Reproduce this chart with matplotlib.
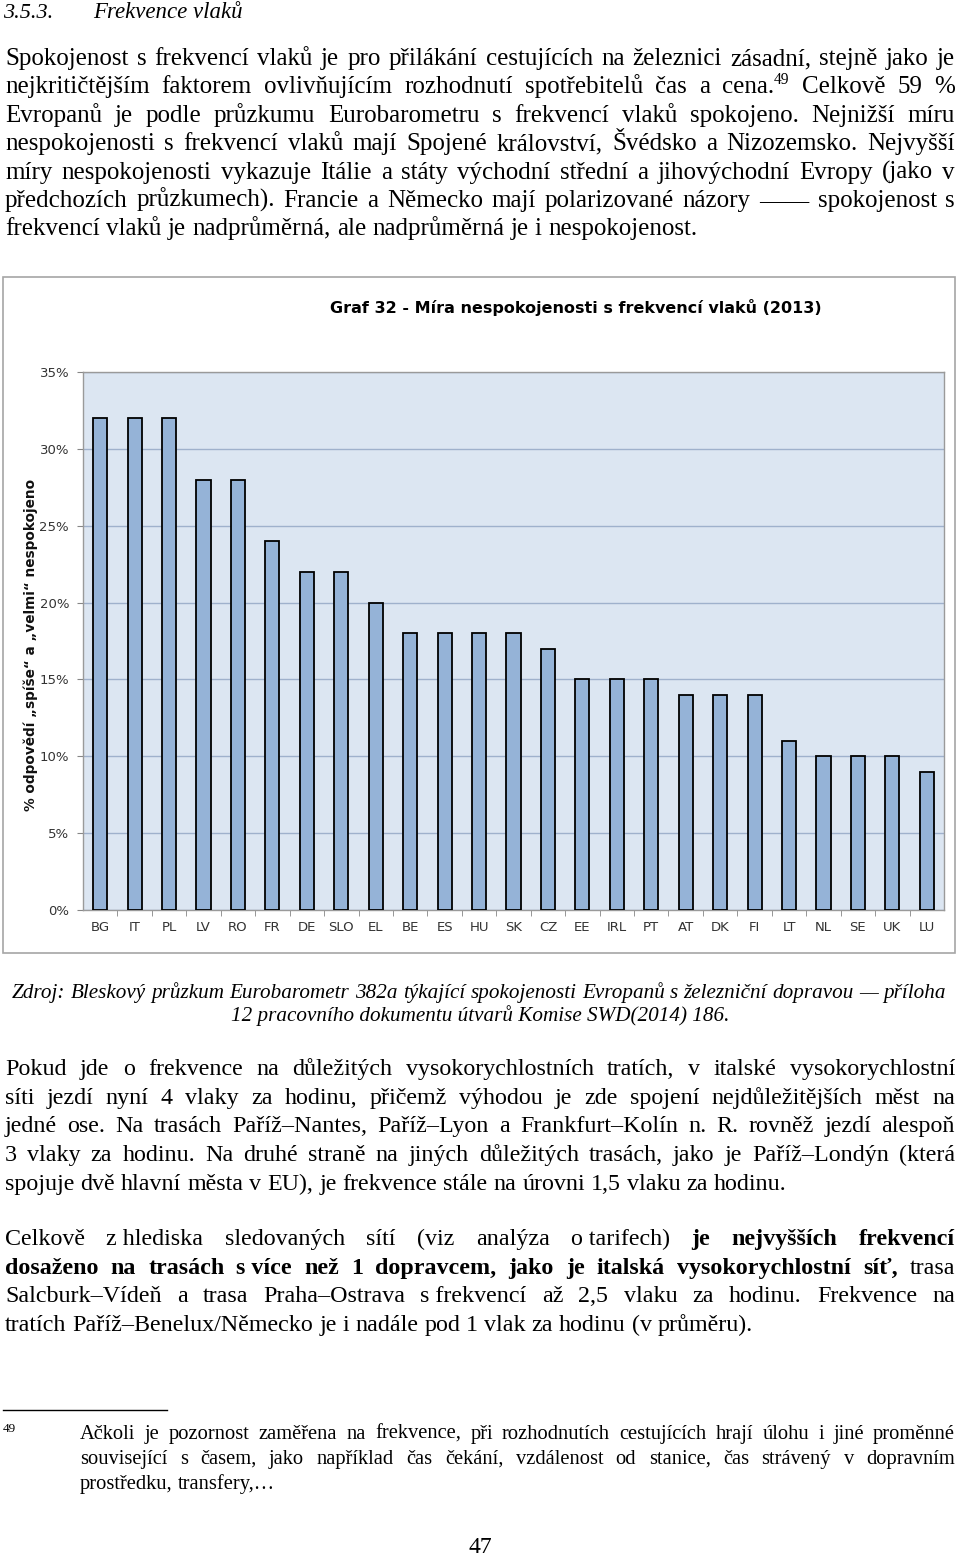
import matplotlib
matplotlib.use('Agg')
import matplotlib.pyplot as plt
from matplotlib.patches import Rectangle

# data
zeme = ['BG', 'IT', 'PL', 'LV', 'RO', 'FR', 'DE', 'SLO', 'EL', 'BE', 'ES', 'HU', 'SK',
        'CZ', 'EE', 'IRL', 'PT', 'AT', 'DK', 'FI', 'LT', 'NL', 'SE', 'UK', 'LU']
nespokojenost = [32, 32, 32, 28, 28, 24, 22, 22, 20, 18, 18, 18, 18,
                 17, 15, 15, 15, 14, 14, 14, 11, 10, 10, 10, 9]
y_ticky = [0, 5, 10, 15, 20, 25, 30, 35]
y_popisky = ['0%', '5%', '10%', '15%', '20%', '25%', '30%', '35%']

nadpis_grafu = 'Graf 32 - Míra nespokojenosti s frekvencí vlaků (2013)'
osa_y = '% odpovědí \u201espíše\u201c a \u201evelmi\u201c nespokojeno'

odstavec1 = [
    'Spokojenost s frekvencí vlaků je pro přilákání cestujících na železnici zásadní, stejně jako je',
    'nejkritičtějším faktorem ovlivňujícím rozhodnutí spotřebitelů čas a cena.^49 Celkově 59 %',
    'Evropanů je podle průzkumu Eurobarometru s frekvencí vlaků spokojeno. Nejnižší míru',
    'nespokojenosti s frekvencí vlaků mají Spojené království, Švédsko a Nizozemsko. Nejvyšší',
    'míry nespokojenosti vykazuje Itálie a státy východní střední a jihovýchodní Evropy (jako v',
    'předchozích průzkumech). Francie a Německo mají polarizované názory \u2014\u2014 spokojenost s',
    'frekvencí vlaků je nadprůměrná, ale nadprůměrná je i nespokojenost.',
]
zdroj = [
    'Zdroj: Bleskový průzkum Eurobarometr 382a týkající spokojenosti Evropanů s železniční dopravou \u2014 příloha',
    '12 pracovního dokumentu útvarů Komise SWD(2014) 186.',
]
odstavec2 = [
    'Pokud jde o frekvence na důležitých vysokorychlostních tratích, v italské vysokorychlostní',
    'síti jezdí nyní 4 vlaky za hodinu, přičemž výhodou je zde spojení nejdůležitějších měst na',
    'jedné ose. Na trasách Paříž\u2013Nantes, Paříž\u2013Lyon a Frankfurt\u2013Kolín n. R. rovněž jezdí alespoň',
    '3 vlaky za hodinu. Na druhé straně na jiných důležitých trasách, jako je Paříž\u2013Londýn (která',
    'spojuje dvě hlavní města v EU), je frekvence stále na úrovni 1,5 vlaku za hodinu.',
]
# slova s * jsou tučně
odstavec3 = [
    'Celkově z\u00a0hlediska sledovaných sítí (viz analýza o\u00a0tarifech) *je *nejvyšších *frekvencí',
    '*dosaženo *na *trasách *s\u00a0více *než *1 *dopravcem, *jako *je *italská *vysokorychlostní *síť, trasa',
    'Salcburk\u2013Vídeň a trasa Praha\u2013Ostrava s\u00a0frekvencí až 2,5 vlaku za hodinu. Frekvence na',
    'tratích Paříž\u2013Benelux/Německo je i nadále pod 1 vlak za hodinu (v průměru).',
]
poznamka = [
    'Ačkoli je pozornost zaměřena na frekvence, při rozhodnutích cestujících hrají úlohu i jiné proměnné',
    'související s časem, jako například čas čekání, vzdálenost od stanice, čas strávený v dopravním',
    'prostředku, transfery,\u2026',
]

W, H = 960, 1557
SERIF = 'Liberation Serif'
SANS = 'DejaVu Sans'

fig = plt.figure(figsize=(W / 100, H / 100), dpi=100)
r = fig.canvas.get_renderer()


def put(x, y, s, **kw):
    return fig.text(x / W, 1 - y / H, s, **kw)


def radek(text, y, x0, x1, size, justify=True, style='normal'):
    slova = []
    for tok in text.split(' '):
        bold = tok.startswith('*')
        tok = tok.lstrip('*').replace('\u00a0', ' ')
        base, _, sup = tok.partition('^')
        t = put(0, y, base, fontsize=size, family=SERIF, style=style,
                fontweight='bold' if bold else 'normal', va='baseline')
        wb = t.get_window_extent(r).width
        st = None
        w = wb
        if sup:
            st = put(0, y - size * 0.55, sup, fontsize=size * 0.62, family=SERIF, va='baseline')
            w += st.get_window_extent(r).width
        slova.append((t, st, wb, w))
    celkem = sum(s[3] for s in slova)
    em = size * 100 / 72
    mezera = em * 0.25
    if justify and len(slova) > 1:
        mezera = max((x1 - x0 - celkem) / (len(slova) - 1), em * 0.12)
    x = x0
    for t, st, wb, w in slova:
        t.set_x(x / W)
        if st is not None:
            st.set_x((x + wb) / W)
        x += w + mezera
    return x


# nadpis kapitoly
put(3, 18, '3.5.3.', fontsize=16, family=SERIF, style='italic', va='baseline')
put(93, 18, 'Frekvence vlaků', fontsize=16.5, family=SERIF, style='italic', va='baseline')

for i, t in enumerate(odstavec1):
    radek(t, 65 + i * 28.4, 5, 955, 18, justify=i < len(odstavec1) - 1)

# rámeček grafu
fig.patches.append(Rectangle((3 / W, 1 - 953 / H), 952 / W, 676 / H, transform=fig.transFigure,
                             fill=False, edgecolor='#a6a6a6', linewidth=1.2))
put(576, 308, nadpis_grafu, fontsize=11.5, family=SANS, fontweight='bold', ha='center', va='center')

ax = fig.add_axes([83 / W, 1 - 910 / H, (944 - 83) / W, (910 - 372) / H])
ax.set_facecolor('#dce6f2')
x = list(range(len(zeme)))
ax.bar(x, nespokojenost, width=0.41, color='#95b3d7', edgecolor='black', linewidth=1.3, zorder=3)
ax.set_xlim(-0.5, len(zeme) - 0.5)
ax.set_ylim(0, 35)
ax.set_yticks(y_ticky)
ax.set_yticklabels(y_popisky, fontsize=9.5, color='#333333', family=SANS)
ax.set_xticks(x)
ax.set_xticklabels(zeme, fontsize=9.5, color='#333333', family=SANS)
ax.tick_params(axis='x', length=0, pad=8)
ax.set_xticks([i + 0.5 for i in x[:-1]], minor=True)
ax.tick_params(axis='x', which='minor', length=4, color='#868686', direction='out')
ax.tick_params(axis='y', length=4, color='#868686', direction='out', pad=6)
ax.grid(axis='y', color='#9fb1cc', linewidth=1, zorder=1)
for s in ax.spines.values():
    s.set_color('#9a9a9a')
    s.set_linewidth(1)
put(31, 645, osa_y, fontsize=9.8, family=SANS, fontweight='bold', rotation=90,
    ha='center', va='center', color='#111111')

# zdroj
radek(zdroj[0], 998, 12, 946, 15.2, style='italic')
put(480, 1021, zdroj[1], fontsize=15.2, family=SERIF, style='italic', ha='center', va='baseline')

for i, t in enumerate(odstavec2):
    radek(t, 1075 + i * 28.7, 5, 955, 17.3, justify=i < len(odstavec2) - 1)

for i, t in enumerate(odstavec3):
    radek(t, 1245 + i * 28.7, 5, 955, 17.3, justify=i < len(odstavec3) - 1)

# poznámka pod čarou
fig.add_artist(plt.Line2D([3 / W, 167 / W], [1 - 1410 / H, 1 - 1410 / H], color='black', linewidth=1))
put(3, 1432, '49', fontsize=9.5, family=SERIF, va='baseline')
for i, t in enumerate(poznamka):
    radek(t, 1439 + i * 25, 80, 955, 14.8, justify=i < len(poznamka) - 1)

put(480, 1553, '47', fontsize=17, family=SERIF, ha='center', va='baseline')

fig.savefig('out.png', dpi=100)
